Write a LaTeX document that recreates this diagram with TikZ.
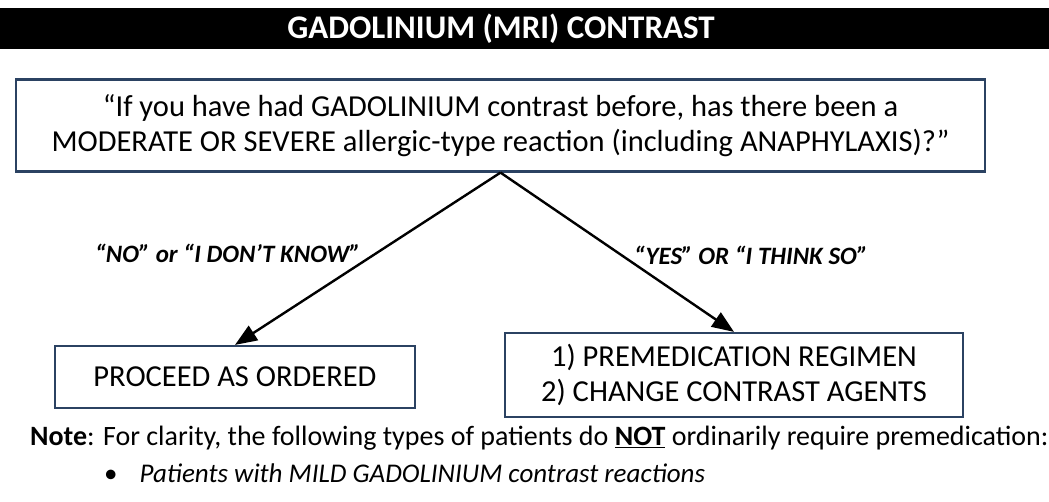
\documentclass[tikz,border=0pt]{standalone}
\usepackage{fontspec}
\setmainfont{Carlito}
\usetikzlibrary{arrows.meta}
\definecolor{ink}{HTML}{000000}
\definecolor{boxnavy}{HTML}{2B4262}
\definecolor{paper}{HTML}{FFFFFF}
\tikzset{
  flowarr/.style={-{Triangle[length=22pt,width=17pt]},line width=2.4pt,color=ink},
  qcard/.style={draw=boxnavy,fill=paper,line width=2.2pt,align=center,inner sep=5pt,font=\fontsize{30.5}{35}\selectfont},
  answertag/.style={font=\fontsize{25}{30}\selectfont\bfseries\itshape,inner sep=2pt},
  titletext/.style={text=paper,inner sep=0pt,font=\fontsize{33}{38}\selectfont\bfseries},
  notetext/.style={anchor=west,inner sep=0pt,font=\fontsize{28}{33}\selectfont}
}
\begin{document}
\begin{tikzpicture}[x=1pt,y=-1pt]
  \useasboundingbox[fill=paper] (0,0) rectangle (1049,501);
  \fill[ink] (0,8) rectangle (1049,49);
  \node[titletext] (title) at (501,28.5) {GADOLINIUM (MRI) CONTRAST};
  \node[qcard,minimum width=969pt,minimum height=92pt] (ask) at (500.5,125.5)
    {“If you have had GADOLINIUM contrast before, has there been a\\MODERATE OR SEVERE allergic-type reaction (including ANAPHYLAXIS)?”};
  \node[qcard,minimum width=360pt,minimum height=62pt] (proceed) at (235,377) {PROCEED AS ORDERED};
  \node[qcard,minimum width=458pt,minimum height=84pt] (premed) at (734,375)
    {1) PREMEDICATION REGIMEN\\2) CHANGE CONTRAST AGENTS};
  \draw[flowarr] (ask.south) -- node[answertag,pos=0.47,anchor=east,xshift=-12pt] {“NO” or “I DON’T KNOW”} (proceed.north);
  \draw[flowarr] (ask.south) -- node[answertag,pos=0.52,anchor=west,xshift=9pt] {“YES” OR “I THINK SO”} (premed.north);
  \node[notetext] (note) at (30,438)
    {\textbf{Note}: For clarity, the following types of patients do \underline{\textbf{NOT}} ordinarily require premedication:};
  \node[notetext,font=\fontsize{27}{32}\selectfont] (mild) at (104,473)
    {•\hspace{22pt}\textit{Patients with MILD GADOLINIUM contrast reactions}};
\end{tikzpicture}
\end{document}
